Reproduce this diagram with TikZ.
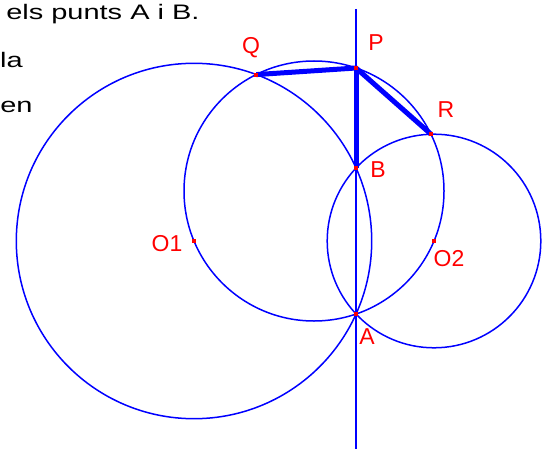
\documentclass[tikz,border=0pt]{standalone}
\usepackage{fontspec}
\setmainfont{Liberation Sans}
\begin{document}
\begin{tikzpicture}[x=1pt, y=-1pt,
    circ/.style={blue, line width=1.5pt},
    seg/.style={blue, line width=5pt},
    lbl/.style={red, font=\fontsize{23}{26}\selectfont, inner sep=0pt},
    txt/.style={black, font=\fontsize{21}{25}\selectfont, inner sep=0pt,
                xscale=1.38, transform shape}]
    \useasboundingbox (0,0) rectangle (553,449);

    % Punts de la figura
    \coordinate (O1) at (194,241);
    \coordinate (O2) at (434,241);
    \coordinate (M) at (314,191);
    \coordinate (A) at (356,314);
    \coordinate (B) at (356,168);
    \coordinate (P) at (356,68);
    \coordinate (Q) at (256.2,74.6);
    \coordinate (R) at (431,134.2);
    \coordinate (top) at (356,9);
    \coordinate (bot) at (356,449);

    % Text retallat
    \node[txt, anchor=base west] (t1) at (6,20) {els punts A i B.};
    \node[txt, anchor=base east] (t2) at (23,68) {la};
    \node[txt, anchor=base west] (t3) at (0,113) {en};

    % Circumferencies
    \draw[circ] (O1) circle (177.7);
    \draw[circ] (O2) circle (106.8);
    \draw[circ] (M) circle (130);

    % Eix radical
    \draw[circ] (top) -- (bot);

    % Segments gruixuts
    \draw[seg] (Q) -- (P) -- (R);
    \draw[seg] (P) -- (B);

    % Marques dels punts
    \foreach \p in {O1,O2,A,B,P,Q,R}
        \fill[red] (\p) +(-2,-2) rectangle +(2,2);

    % Etiquetes
    \node[lbl] (lQ) at (251,48) {Q};
    \node[lbl] (lP) at (376,43) {P};
    \node[lbl] (lR) at (446,110) {R};
    \node[lbl] (lB) at (378,170) {B};
    \node[lbl] (lA) at (367,337) {A};
    \node[lbl] (lO1) at (167,244) {O1};
    \node[lbl] (lO2) at (449,259) {O2};
\end{tikzpicture}
\end{document}
